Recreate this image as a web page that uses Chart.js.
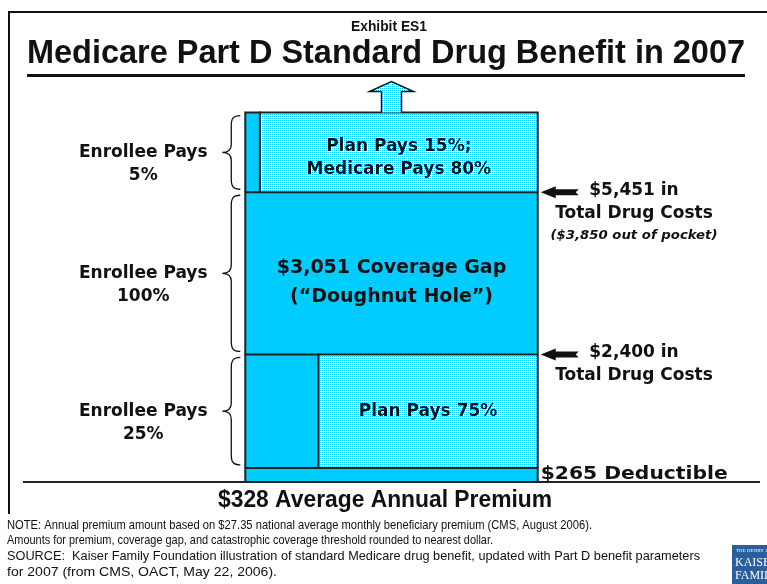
<!doctype html>
<html>
<head>
<meta charset="utf-8">
<title>Medicare Part D Standard Drug Benefit in 2007</title>
<script src="https://cdn.jsdelivr.net/npm/chart.js"></script>
<style>
    html, body { margin: 0; padding: 0; background: #fff; }
    #grafico { display: block; }
</style>
</head>
<body>
<canvas id="grafico" width="767" height="584"></canvas>
<script>
// benefit phases, in total drug costs ($)
var phases = ['Deductible', 'Initial Coverage', 'Coverage Gap', 'Catastrophic'];
var phaseStart = [0, 265, 2400, 5451];
var phaseEnd = [265, 2400, 5451, 6950]; // catastrophic is open ended, drawn up to here
var enrolleePct = [100, 25, 100, 5];
var otherPct = [0, 75, 0, 95]; // plan 75%; plan 15% + medicare 80%

var leftLabels = ['', 'Enrollee Pays\n25%', 'Enrollee Pays\n100%', 'Enrollee Pays\n5%'];
var insideLabels = ['', 'Plan Pays 75%', '$3,051 Coverage Gap\n(\u201cDoughnut Hole\u201d)', 'Plan Pays 15%;\nMedicare Pays 80%'];
var thresholds = [2400, 5451];
var thresholdLabels = ['$2,400 in\nTotal Drug Costs', '$5,451 in\nTotal Drug Costs'];
var thresholdNotes = ['', '($3,850 out of pocket)'];
var deductibleLabel = '$265 Deductible';
var premiumLabel = '$328 Average Annual Premium';
var notes = [
    'NOTE: Annual premium amount based on $27.35 national average monthly beneficiary premium (CMS, August 2006).',
    'Amounts for premium, coverage gap, and catastrophic coverage threshold rounded to nearest dollar.',
    'SOURCE:  Kaiser Family Foundation illustration of standard Medicare drug benefit, updated with Part D benefit parameters',
    'for 2007 (from CMS, OACT, May 22, 2006).'
];
var notesWidth = [585, 486, 693, 270];

var CYAN = '#00CCFF';
var INK = '#111111';
var NARROW = '"Liberation Sans Narrow", "Liberation Sans", Arial, sans-serif';
var LABEL = '"DejaVu Sans", Verdana, sans-serif';

// dotted fill used for the plan / medicare share
var tile = document.createElement('canvas');
tile.width = 2; tile.height = 2;
var tctx = tile.getContext('2d');
tctx.fillStyle = '#ffffff';
tctx.fillRect(0, 0, 2, 2);
tctx.fillStyle = CYAN;
tctx.fillRect(0, 0, 1, 1);
var ctxGrafico = document.getElementById('grafico').getContext('2d');
var dotted = ctxGrafico.createPattern(tile, 'repeat');

function rect(x0, x1, y0, y1, fill) {
    return {
        data: [{ x: x0, y: y0 }, { x: x0, y: y1 }, { x: x1, y: y1 }, { x: x1, y: y0 }],
        fill: { value: y0 },
        backgroundColor: fill,
        borderColor: '#222222',
        borderWidth: 2,
        pointRadius: 0,
        tension: 0
    };
}

var datasets = [];
for (var i = 0; i < phases.length; i++) {
    datasets.push(rect(0, enrolleePct[i], phaseStart[i], phaseEnd[i], CYAN));
    if (otherPct[i] > 0) {
        datasets.push(rect(enrolleePct[i], enrolleePct[i] + otherPct[i], phaseStart[i], phaseEnd[i], dotted));
    }
}

function linhas(ctx, text, x, y, lh) {
    var parts = text.split('\n');
    for (var k = 0; k < parts.length; k++) ctx.fillText(parts[k], x, y + k * lh);
}

function squeezed(ctx, text, x, y, width, align) {
    var w = ctx.measureText(text).width;
    ctx.save();
    ctx.translate(x, y);
    ctx.scale(width / w, 1);
    ctx.textAlign = 'left';
    ctx.fillText(text, align == 'center' ? -w / 2 : 0, 0);
    ctx.restore();
}

function brace(ctx, x, top, bottom) {
    var mid = (top + bottom) / 2;
    ctx.beginPath();
    ctx.moveTo(x + 9, top);
    ctx.bezierCurveTo(x + 2, top, x, top + 3, x, top + 10);
    ctx.lineTo(x, mid - 8);
    ctx.bezierCurveTo(x, mid - 2, x - 4, mid, x - 9, mid);
    ctx.bezierCurveTo(x - 4, mid, x, mid + 2, x, mid + 8);
    ctx.lineTo(x, bottom - 10);
    ctx.bezierCurveTo(x, bottom - 3, x + 2, bottom, x + 9, bottom);
    ctx.stroke();
}

function leftArrow(ctx, x, y) {
    ctx.beginPath();
    ctx.moveTo(x, y);
    ctx.lineTo(x + 15, y - 6);
    ctx.lineTo(x + 15, y - 3);
    ctx.lineTo(x + 38, y - 3);
    ctx.lineTo(x + 35, y);
    ctx.lineTo(x + 38, y + 3);
    ctx.lineTo(x + 15, y + 3);
    ctx.lineTo(x + 15, y + 6);
    ctx.closePath();
    ctx.fill();
}

var decoracao = {
    id: 'decoracao',
    afterDraw: function (chart) {
        var ctx = chart.ctx;
        var xs = chart.scales.x, ys = chart.scales.y, area = chart.chartArea;
        var left = xs.getPixelForValue(0), right = xs.getPixelForValue(100);
        var center = xs.getPixelForValue(50);
        ctx.save();
        ctx.fillStyle = INK;
        ctx.strokeStyle = INK;

        // frame (left and top edges only are on the picture)
        ctx.lineWidth = 2;
        ctx.beginPath();
        ctx.moveTo(9, 514);
        ctx.lineTo(9, 12);
        ctx.lineTo(767, 12);
        ctx.stroke();

        // titles
        ctx.textBaseline = 'middle';
        ctx.font = 'bold 15px ' + NARROW;
        squeezed(ctx, 'Exhibit ES1', 389, 27, 76, 'center');
        ctx.font = 'bold 34px ' + NARROW;
        squeezed(ctx, 'Medicare Part D Standard Drug Benefit in 2007', 386, 54, 718, 'center');
        ctx.lineWidth = 3;
        ctx.beginPath();
        ctx.moveTo(27, 75.5);
        ctx.lineTo(745, 75.5);
        ctx.stroke();

        // base line
        ctx.lineWidth = 2;
        ctx.strokeStyle = '#222222';
        ctx.beginPath();
        ctx.moveTo(area.left, area.bottom);
        ctx.lineTo(area.right, area.bottom);
        ctx.stroke();

        // open-ended arrow on top of the bar
        var top = ys.getPixelForValue(phaseEnd[3]);
        ctx.beginPath();
        ctx.moveTo(center - 10, top);
        ctx.lineTo(center - 10, top - 21);
        ctx.lineTo(center - 22, top - 21);
        ctx.lineTo(center, top - 31);
        ctx.lineTo(center + 22, top - 21);
        ctx.lineTo(center + 10, top - 21);
        ctx.lineTo(center + 10, top);
        ctx.fillStyle = dotted;
        ctx.fill();
        ctx.lineWidth = 1.5;
        ctx.strokeStyle = INK;
        ctx.stroke();
        ctx.fillStyle = INK;

        // labels inside the bar
        ctx.textAlign = 'center';
        for (var i = 1; i < phases.length; i++) {
            var y0 = ys.getPixelForValue(phaseStart[i]), y1 = ys.getPixelForValue(phaseEnd[i]);
            var mid = (y0 + y1) / 2;
            var n = insideLabels[i].split('\n').length;
            var cx = xs.getPixelForValue(enrolleePct[i] == 100 ? 50 : (enrolleePct[i] + 100) / 2);
            if (enrolleePct[i] == 100) {
                ctx.font = 'bold 19px ' + LABEL;
                linhas(ctx, insideLabels[i], cx, mid - 5, 29);
            } else {
                ctx.font = 'bold 17px ' + LABEL;
                linhas(ctx, insideLabels[i], cx, mid - (n - 1) * 11.5 + (n - 1) * 6, 23);
            }

            // braces and enrollee share on the left
            ctx.lineWidth = 1.3;
            brace(ctx, left - 14, y1 + 3, y0 - 3);
            ctx.font = 'bold 17px ' + LABEL;
            linhas(ctx, leftLabels[i], left - 102, mid, 23);
        }

        // thresholds on the right
        for (var j = 0; j < thresholds.length; j++) {
            var ty = ys.getPixelForValue(thresholds[j]);
            leftArrow(ctx, right + 3, ty);
            ctx.font = 'bold 17px ' + LABEL;
            linhas(ctx, thresholdLabels[j], 634, ty - 2, 23);
            if (thresholdNotes[j]) {
                ctx.font = 'italic bold 13px ' + LABEL;
                squeezed(ctx, thresholdNotes[j], 634, ty + 43, 167, 'center');
            }
        }
        ctx.font = 'bold 18px ' + LABEL;
        squeezed(ctx, deductibleLabel, right + 3, (ys.getPixelForValue(0) + ys.getPixelForValue(phaseEnd[0])) / 2 - 1, 187, 'left');

        // premium and notes
        ctx.font = 'bold 24px ' + NARROW;
        squeezed(ctx, premiumLabel, 385, 500, 334, 'center');
        ctx.font = '13px ' + NARROW;
        for (var m = 0; m < notes.length; m++) {
            squeezed(ctx, notes[m], 7, 525 + m * 15.7, notesWidth[m], 'left');
        }

        // logo
        ctx.textAlign = 'left';
        ctx.fillStyle = '#2b5f9c';
        ctx.fillRect(732, 545, 60, 60);
        ctx.fillStyle = '#ffffff';
        ctx.font = '5px "Liberation Serif", serif';
        ctx.fillText('THE HENRY J.', 736, 551);
        ctx.font = '12px "Liberation Serif", serif';
        ctx.fillText('KAISER', 735, 563);
        ctx.fillText('FAMILY', 735, 576);
        ctx.restore();
    }
};

var grafico = new Chart(ctxGrafico, {
    type: 'line',
    data: { datasets: datasets },
    options: {
        responsive: false,
        animation: false,
        devicePixelRatio: 1,
        layout: { padding: { top: 78, bottom: 102, left: 23, right: 7 } },
        plugins: { legend: { display: false }, tooltip: { enabled: false } },
        scales: {
            x: { type: 'linear', min: -76, max: 176, display: false },
            y: { type: 'linear', min: 0, max: 7600, display: false }
        }
    },
    plugins: [decoracao]
});
</script>
</body>
</html>
